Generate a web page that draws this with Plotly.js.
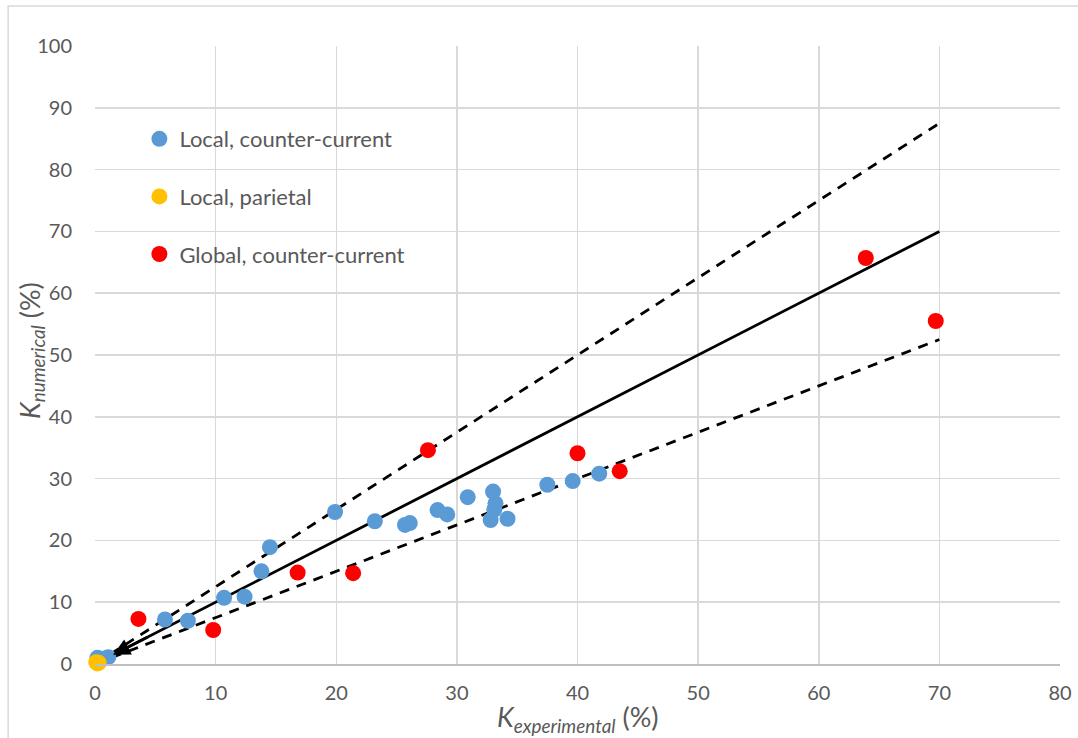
<!DOCTYPE html>
<html>
<head>
<meta charset="utf-8">
<script src="https://cdn.plot.ly/plotly-3.0.1.min.js"></script>
<style>html,body{margin:0;padding:0;background:#fff;}#chart{width:1078px;height:738px;}</style>
</head>
<body>
<div id="chart"></div>
<script>
// Local, counter-current
const localCCx = [0.2, 0.8, 1.1, 5.8, 7.7, 10.7, 12.4, 13.8, 14.5, 19.9, 23.2, 25.7, 26.1, 28.4, 29.2, 30.9, 33.0, 33.2, 33.1, 32.8, 34.2, 37.5, 39.6, 41.8];
const localCCy = [1.0, 0.9, 1.1, 7.2, 7.0, 10.7, 10.9, 15.0, 18.9, 24.6, 23.1, 22.5, 22.8, 24.9, 24.2, 27.0, 27.9, 26.0, 25.0, 23.3, 23.5, 29.0, 29.6, 30.8];
// Local, parietal
const localParx = [0.1, 0.2, 0.3];
const localPary = [0.3, 0.1, 0.2];
// Global, counter-current
const globalCCx = [3.6, 9.8, 16.8, 21.4, 27.6, 40.0, 43.5, 63.9, 69.7];
const globalCCy = [7.3, 5.5, 14.8, 14.7, 34.6, 34.1, 31.2, 65.7, 55.5];
// Reference lines: y = x, y = 1.25x, y = 0.75x
const refX = [0, 70];
const refIdeal = [0, 70];
const refUpper = [0, 87.5];
const refLower = [0, 52.5];
const xTicks = [0, 10, 20, 30, 40, 50, 60, 70, 80];
const yTicks = [0, 10, 20, 30, 40, 50, 60, 70, 80, 90, 100];
const xTitle = '<i>K<sub>experimental</sub></i> (%)';
const yTitle = '<i>K<sub>numerical</sub></i> (%)';

const FONT = 'Lato, "Open Sans", sans-serif';
const GREY = '#595959';

const traces = [
  {x: refX, y: refIdeal, mode: 'lines', line: {color: '#000', width: 2.8}, showlegend: false, hoverinfo: 'skip'},
  {x: refX, y: refUpper, mode: 'lines', line: {color: '#000', width: 2.8, dash: '10px,8px'}, showlegend: false, hoverinfo: 'skip'},
  {x: refX, y: refLower, mode: 'lines', line: {color: '#000', width: 2.8, dash: '10px,8px'}, showlegend: false, hoverinfo: 'skip'},
  {x: localCCx, y: localCCy, mode: 'markers', name: 'Local, counter-current', legendgroup: 'a', cliponaxis: false,
   marker: {color: '#5B9BD5', size: 16}},
  {x: localParx, y: localPary, mode: 'markers', name: 'Local, parietal', legendgroup: 'b', cliponaxis: false,
   marker: {color: '#FFC000', size: 16}},
  {x: globalCCx, y: globalCCy, mode: 'markers', name: 'Global, counter-current', legendgroup: 'c', cliponaxis: false,
   marker: {color: '#FF0000', size: 16}}
];

const layout = {
  width: 1078, height: 738,
  margin: {l: 95, r: 18, t: 46, b: 74},
  paper_bgcolor: '#fff', plot_bgcolor: '#fff',
  font: {family: FONT, color: GREY, size: 20},
  showlegend: true,
  legend: {x: 0.046, y: 0.8835, xanchor: 'left', yanchor: 'top', bgcolor: 'rgba(0,0,0,0)',
           font: {family: FONT, size: 22, color: GREY}, traceorder: 'grouped', tracegroupgap: 26,
           itemwidth: 30},
  xaxis: {range: [0, 80], tickvals: xTicks, ticktext: xTicks.map(String), showgrid: true, gridcolor: '#d9d9d9', gridwidth: 1.5,
          zeroline: false, showline: true, linecolor: '#bfbfbf', linewidth: 1.5, ticks: '', ticklen: 0, ticklabelstandoff: 10,
          tickfont: {family: FONT, size: 20, color: GREY}, fixedrange: true},
  yaxis: {range: [0, 100], tickvals: yTicks, ticktext: yTicks.map(String), showgrid: true, gridcolor: '#d9d9d9', gridwidth: 1.5,
          zeroline: false, showline: false, ticks: '', ticklen: 0, ticklabelstandoff: 22,
          tickfont: {family: FONT, size: 20, color: GREY}, fixedrange: true},
  shapes: [
    {type: 'rect', xref: 'paper', yref: 'paper', x0: -0.09, x1: 1.5, y0: -0.5, y1: 1.0647,
     line: {color: '#d9d9d9', width: 1.5}, fillcolor: 'rgba(0,0,0,0)', layer: 'below'}
  ],
  annotations: [
    {x: 1.5, y: 1.5, ax: 4.5, ay: 4.5, xref: 'x', yref: 'y', axref: 'x', ayref: 'y', text: '',
     showarrow: true, arrowhead: 2, arrowsize: 1.2, arrowwidth: 2.8, arrowcolor: '#000'},
    {xref: 'paper', yref: 'paper', x: 0.5, y: -0.088, xanchor: 'center', yanchor: 'middle', showarrow: false,
     text: xTitle, font: {family: FONT, size: 27, color: GREY}},
    {xref: 'paper', yref: 'paper', x: -0.066, y: 0.507, xanchor: 'center', yanchor: 'middle', showarrow: false,
     textangle: -90, text: yTitle, font: {family: FONT, size: 27, color: GREY}}
  ]
};

Plotly.newPlot('chart', traces, layout, {displayModeBar: false, staticPlot: true});
</script>
</body>
</html>
